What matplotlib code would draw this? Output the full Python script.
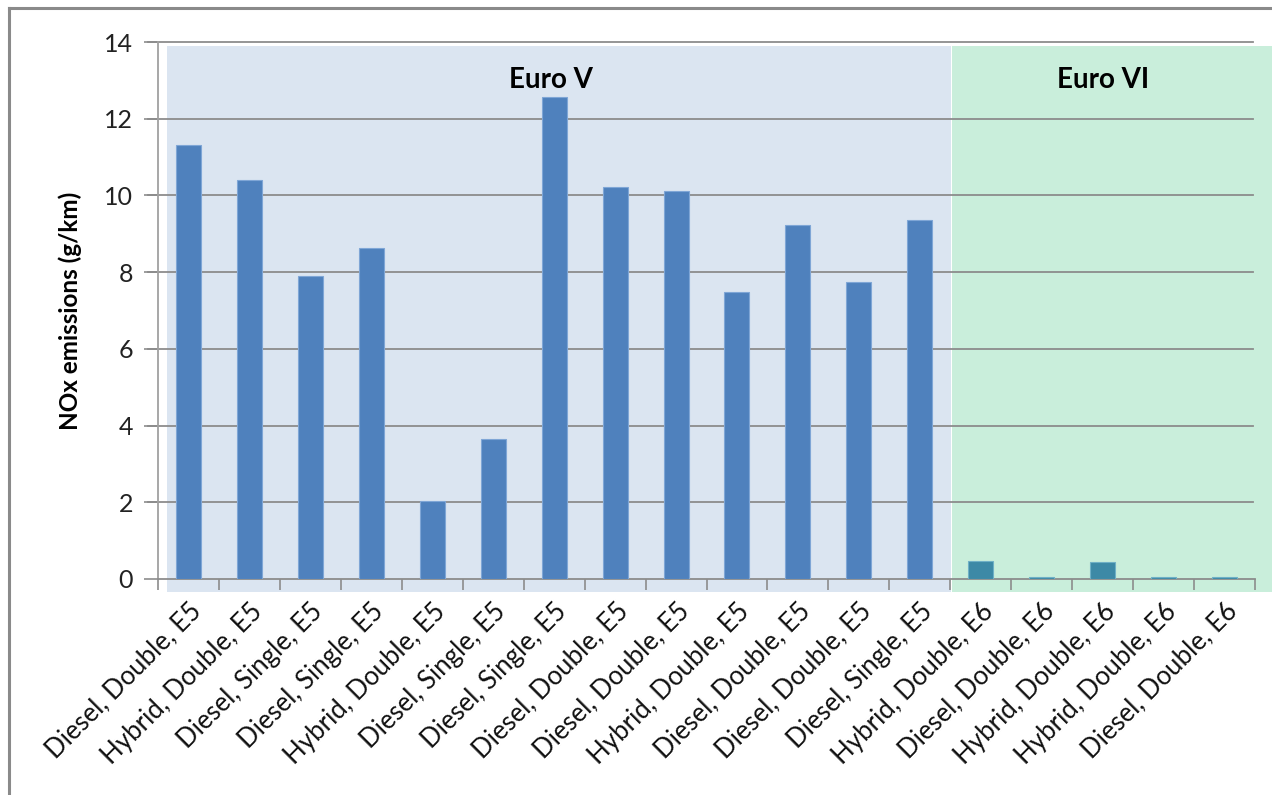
import matplotlib
matplotlib.use("Agg")
import matplotlib.pyplot as plt
from matplotlib.patches import Rectangle
from matplotlib.lines import Line2D

categories = [
    "Diesel, Double, E5", "Hybrid, Double, E5", "Diesel, Single, E5",
    "Diesel, Single, E5", "Hybrid, Double, E5", "Diesel, Single, E5",
    "Diesel, Single, E5", "Diesel, Double, E5", "Diesel, Double, E5",
    "Hybrid, Double, E5", "Diesel, Double, E5", "Diesel, Double, E5",
    "Diesel, Single, E5", "Hybrid, Double, E6", "Diesel, Double, E6",
    "Hybrid, Double, E6", "Hybrid, Double, E6", "Diesel, Double, E6",
]
nox_values = [11.32, 10.40, 7.91, 8.64, 2.04, 3.64, 12.56, 10.22, 10.12,
              7.47, 9.23, 7.73, 9.37, 0.48, 0.05, 0.45, 0.05, 0.05]
euro_standard = ["V"] * 13 + ["VI"] * 5
y_ticks = [0, 2, 4, 6, 8, 10, 12, 14]

plt.rcParams['font.family'] = ['Lato', 'DejaVu Sans']

fig = plt.figure(figsize=(12.72, 7.95), dpi=100)
W, H = 1272, 795
ax = fig.add_axes([158 / W, 1 - 579 / H, (1255 - 158) / W, (579 - 42) / H])
ax.set_xlim(-0.5, len(categories) - 0.5)
ax.set_ylim(0, 14)

# background bands
n5 = euro_standard.count("V")
ax.add_patch(Rectangle((-0.35, -0.34), n5 - 0.5 + 0.35 + 0.01, 14.24,
                       facecolor="#dbe5f1", edgecolor="none", zorder=0, clip_on=False))
ax.add_patch(Rectangle((n5 - 0.47, -0.34), len(categories) - n5 + 0.44, 14.24,
                       facecolor="#c9eedb", edgecolor="none", zorder=0, clip_on=False))

colors = ["#4f81bd" if s == "V" else "#3d89a6" for s in euro_standard]
edges = ["#7fa6d6" if s == "V" else "#6fb0c6" for s in euro_standard]
x = list(range(len(categories)))
ax.bar(x, nox_values, width=0.41, color=colors, edgecolor=edges, linewidth=0.8, zorder=3)

# gridlines
for yv in y_ticks[1:]:
    ax.plot([-0.66, len(categories) - 0.53], [yv, yv], color="#8c8c8c", lw=1.3,
            zorder=1, clip_on=False)

ax.set_yticks(y_ticks)
ax.set_yticklabels([str(v) for v in y_ticks], fontsize=18, color="#222222")
ax.tick_params(axis='y', length=10, width=1.2, color="#8c8c8c", pad=8)

ax.set_xticks([i - 0.5 for i in range(len(categories) + 1)], minor=False)
ax.set_xticklabels([])
ax.tick_params(axis='x', length=8, width=1.2, color="#8c8c8c")
ax.set_xticks(x, minor=True)
ax.set_xticklabels(categories, minor=True, rotation=45, ha='right',
                   rotation_mode='anchor', fontsize=18.5, color="#111111")
ax.tick_params(axis='x', which='minor', length=0, pad=14)

for s in ["top", "right"]:
    ax.spines[s].set_visible(False)
ax.spines["left"].set_color("#a0a0a0")
ax.spines["left"].set_linewidth(1.3)
ax.spines["bottom"].set_color("#8c8c8c")
ax.spines["bottom"].set_linewidth(1.3)
ax.set_facecolor("white")

ax.set_ylabel("NOx emissions (g/km)", fontsize=17.5, fontweight='bold', labelpad=16)

ax.text((n5 - 1) / 2 - 0.05, 13.0, "Euro V", ha='center', va='center',
        fontsize=20, fontweight='bold', zorder=5)
ax.text(n5 + (len(categories) - n5 - 1) / 2, 13.0, "Euro VI", ha='center', va='center',
        fontsize=20, fontweight='bold', zorder=5)

# outer border (left and top)
fig.add_artist(Line2D([9 / W, 9 / W], [0, 1 - 8 / H], color="#8a8a8a", lw=2.2))
fig.add_artist(Line2D([9 / W, 1], [1 - 8 / H, 1 - 8 / H], color="#8a8a8a", lw=2.2))

fig.savefig("out.png", dpi=100, facecolor="white")
